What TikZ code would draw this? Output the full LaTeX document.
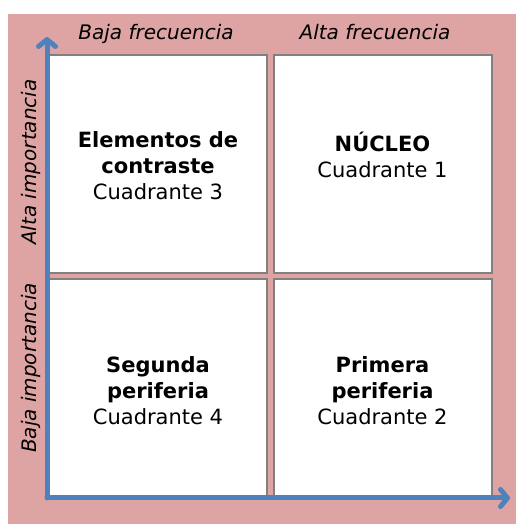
\documentclass[tikz,border=0pt]{standalone}
\usepackage{fontspec}
\setmainfont{DejaVu Sans}
\usetikzlibrary{arrows.meta,positioning}
\definecolor{rosa}{RGB}{222,164,164}
\definecolor{azul}{RGB}{79,129,189}
\definecolor{borde}{RGB}{128,128,128}

\begin{document}
\begin{tikzpicture}[
		x=1pt,y=1pt,
		fondo/.style={fill=rosa,draw=none},
		cuadro/.style={draw=borde,fill=white,line width=2pt,minimum width=218pt,
			minimum height=218pt,inner sep=0pt,outer sep=0pt},
		texto/.style={align=center,inner sep=0pt,font=\fontsize{21}{26}\selectfont},
		etiqueta/.style={inner sep=0pt,anchor=base,font=\fontsize{20}{24}\selectfont\itshape},
		eje/.style={draw=azul,line width=5pt,line cap=round,
			-{Straight Barb[length=7pt,width=17pt,round]}}
	]
		\useasboundingbox (0,0) rectangle (516,524);
		\fill[fondo] (8,0) rectangle (516,510);

		% cuadrantes
		\node[cuadro] (c3) at (158,359.5) {};
		\node[cuadro] (c1) at (382.5,359.5) {};
		\node[cuadro] (c4) at (158,135.5) {};
		\node[cuadro] (c2) at (382.5,135.5) {};

		\node[texto,below=76pt of c3.north] (t3) {\textbf{Elementos de}\\\textbf{contraste}\\Cuadrante 3};
		\node[texto,below=76pt of c1.north] (t1) {\textbf{NÚCLEO}\\Cuadrante 1};
		\node[texto,below=77pt of c4.north] (t4) {\textbf{Segunda}\\\textbf{periferia}\\Cuadrante 4};
		\node[texto,below=77pt of c2.north] (t2) {\textbf{Primera}\\\textbf{periferia}\\Cuadrante 2};

		% ejes
		\coordinate (origen) at (47,26);
		\coordinate (ejey) at (47,487);
		\coordinate (ejex) at (510,26);
		\draw[eje] (origen) -- (ejey);
		\draw[eje] (origen) -- (ejex);

		\node[etiqueta] (bf) at (156,484) {Baja frecuencia};
		\node[etiqueta] (af) at (375,484) {Alta frecuencia};
		\node[etiqueta,rotate=90] (ai) at (36,362) {Alta importancia};
		\node[etiqueta,rotate=90] (bi) at (36,156) {Baja importancia};
	\end{tikzpicture}
\end{document}
